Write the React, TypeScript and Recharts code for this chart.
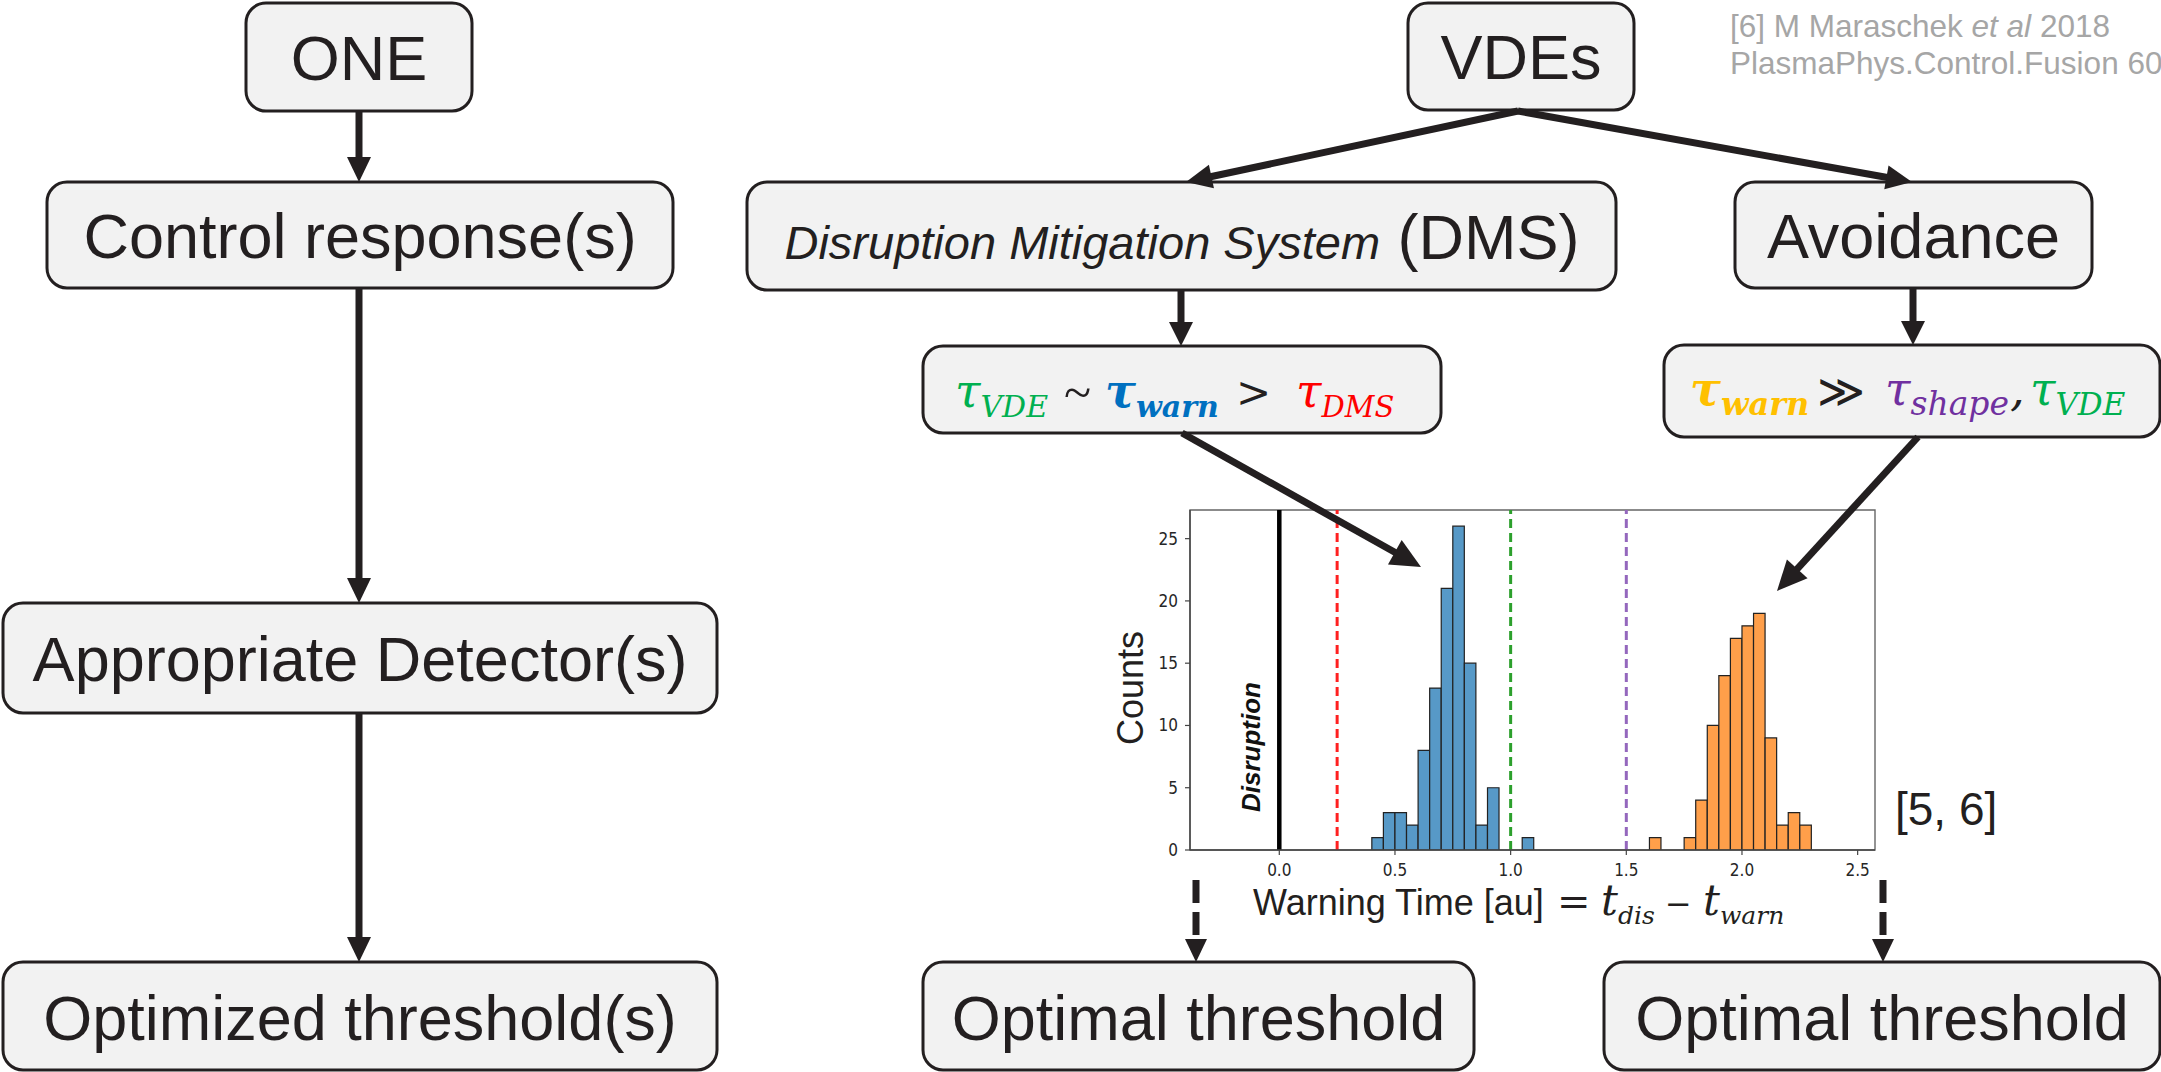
import React from 'react';
import { ComposedChart, Bar, Cell, XAxis, YAxis, ReferenceLine, ReferenceArea } from 'recharts';

const FIG_W = 2161;
const FIG_H = 1072;

// histogram of warning times: left bin edges and counts for each response
const BIN_WIDTH = 0.05;
const dmsBinStarts = [0.4, 0.45, 0.5, 0.55, 0.6, 0.65, 0.7, 0.75, 0.8, 0.85, 0.9, 1.05];
const dmsCounts = [1, 3, 3, 2, 8, 13, 21, 26, 15, 2, 5, 1];
const avoidBinStarts = [1.6, 1.75, 1.8, 1.85, 1.9, 1.95, 2.0, 2.05, 2.1, 2.15, 2.2, 2.25];
const avoidCounts = [1, 1, 4, 10, 14, 17, 18, 19, 9, 2, 3, 2];

const xTicks = [0, 0.5, 1.0, 1.5, 2.0, 2.5];
const yTicks = [0, 5, 10, 15, 20, 25];
const xDomain = [-0.386, 2.575];
const yDomain = [0, 27.3];

// vertical markers
const disruptionTime = 0;
const tauDmsTime = 0.25;
const tauVdeTime = 1.0;
const tauShapeTime = 1.5;

const INK = '#231f20';
const BOX_FILL = '#f2f2f2';
const SANS = '"Liberation Sans", Arial, Helvetica, sans-serif';
const MATH = '"DejaVu Serif", "Liberation Serif", serif';
const TIMES = '"Liberation Serif", serif';
const TICK_FONT = '"DejaVu Sans Condensed", "DejaVu Sans", sans-serif';

const GREEN = '#00b050';
const BLUE = '#0070c0';
const RED = '#ff0000';
const GOLD = '#ffc000';
const PURPLE = '#7030a0';

const DMS_FILL = '#5799c7';
const AVOID_FILL = '#ff9f4a';

// plot area of the histogram inside the figure
const PLOT = { left: 1190, top: 510, right: 1875, bottom: 850 };
const Y_AXIS_W = 60;
const X_AXIS_H = 40;
const binPx =
  (BIN_WIDTH * (PLOT.right - PLOT.left)) / (xDomain[1] - xDomain[0]) - 0.05;

const histData = [
  ...dmsBinStarts.map((start, i) => ({ x: start + BIN_WIDTH / 2, count: dmsCounts[i], group: 'dms' })),
  ...avoidBinStarts.map((start, i) => ({ x: start + BIN_WIDTH / 2, count: avoidCounts[i], group: 'avoid' })),
];

const boxes = [
  { x: 246, y: 3, w: 226, h: 108, text: 'ONE', base: 80 },
  { x: 47, y: 182, w: 626, h: 106, text: 'Control response(s)', base: 258 },
  { x: 3, y: 603, w: 714, h: 110, text: 'Appropriate Detector(s)', base: 681 },
  { x: 3, y: 962, w: 714, h: 108, text: 'Optimized threshold(s)', base: 1040 },
  { x: 1408, y: 3, w: 226, h: 107, text: 'VDEs', base: 79 },
  { x: 1735, y: 182, w: 357, h: 106, text: 'Avoidance', base: 258 },
  { x: 923, y: 962, w: 551, h: 108, text: 'Optimal threshold', base: 1040 },
  { x: 1604, y: 962, w: 556, h: 108, text: 'Optimal threshold', base: 1040 },
];

function Box({ x, y, w, h }: { x: number; y: number; w: number; h: number }) {
  return <rect x={x} y={y} width={w} height={h} rx={20} ry={20} fill={BOX_FILL} stroke={INK} strokeWidth={3} />;
}

function Arrow({
  x1, y1, x2, y2, head = 25, w = 24, dash,
}: { x1: number; y1: number; x2: number; y2: number; head?: number; w?: number; dash?: string }) {
  const a = Math.atan2(y2 - y1, x2 - x1);
  const c = Math.cos(a);
  const s = Math.sin(a);
  const bx = x2 - head * c;
  const by = y2 - head * s;
  const px = (-s * w) / 2;
  const py = (c * w) / 2;
  return (
    <g>
      <line x1={x1} y1={y1} x2={bx + c} y2={by + s} stroke={INK} strokeWidth={7} strokeDasharray={dash} />
      <polygon points={`${x2},${y2} ${bx + px},${by + py} ${bx - px},${by - py}`} fill={INK} />
    </g>
  );
}

function Tau({
  x, y, color, sub, bold, size = 46, subSize = 30,
}: { x: number; y: number; color: string; sub: string; bold?: boolean; size?: number; subSize?: number }) {
  return (
    <text x={x} y={y} fill={color} fontFamily={MATH} fontStyle="italic" fontWeight={bold ? 700 : 400} fontSize={size}>
      τ
      <tspan dy={10} fontSize={subSize}>{sub}</tspan>
    </text>
  );
}

const DisruptionLabel = (props: any) => {
  const vb = props && props.viewBox;
  if (!vb) return null;
  const bx = vb.x - 19;
  const by = vb.y + vb.height - 38;
  return (
    <text
      x={bx}
      y={by}
      transform={`rotate(-90 ${bx} ${by})`}
      fontFamily={SANS}
      fontStyle="italic"
      fontWeight={700}
      fontSize={26}
      fill="#111"
    >
      Disruption
    </text>
  );
};

function Histogram() {
  return (
    <ComposedChart
      width={FIG_W}
      height={FIG_H}
      data={histData}
      margin={{
        top: PLOT.top,
        left: PLOT.left - Y_AXIS_W,
        right: FIG_W - PLOT.right,
        bottom: FIG_H - PLOT.bottom - X_AXIS_H,
      }}
    >
      <XAxis
        dataKey="x"
        type="number"
        domain={xDomain}
        ticks={xTicks}
        interval={0}
        allowDataOverflow
        height={X_AXIS_H}
        tickSize={5}
        tickMargin={9}
        tickFormatter={(v: number) => v.toFixed(1)}
        tick={{ fill: '#262626', fontSize: 17, fontFamily: TICK_FONT }}
        axisLine={{ stroke: '#444', strokeWidth: 1.4 }}
        tickLine={{ stroke: '#444', strokeWidth: 1.2 }}
      />
      <YAxis
        type="number"
        domain={yDomain}
        ticks={yTicks}
        interval={0}
        allowDataOverflow
        width={Y_AXIS_W}
        tickSize={5}
        tickMargin={7}
        tick={{ fill: '#262626', fontSize: 17, fontFamily: TICK_FONT }}
        axisLine={{ stroke: '#444', strokeWidth: 1.4 }}
        tickLine={{ stroke: '#444', strokeWidth: 1.2 }}
      />
      <ReferenceArea
        x1={xDomain[0]}
        x2={xDomain[1]}
        y1={yDomain[0]}
        y2={yDomain[1]}
        fill="none"
        stroke="#666"
        strokeWidth={1.4}
      />
      <Bar dataKey="count" barSize={binPx} stroke="#222" strokeWidth={1.2} isAnimationActive={false}>
        {histData.map((d, i) => (
          <Cell key={`bin-${i}`} fill={d.group === 'dms' ? DMS_FILL : AVOID_FILL} />
        ))}
      </Bar>
      <ReferenceLine x={disruptionTime} stroke="#000" strokeWidth={4.5} label={DisruptionLabel} />
      <ReferenceLine x={tauDmsTime} stroke="#ff2020" strokeWidth={3} strokeDasharray="9 5" />
      <ReferenceLine x={tauVdeTime} stroke="#2ca02c" strokeWidth={3} strokeDasharray="9 5" />
      <ReferenceLine x={tauShapeTime} stroke="#9467bd" strokeWidth={3} strokeDasharray="9 5" />
    </ComposedChart>
  );
}

export default function App() {
  return (
    <div
      style={{
        position: 'absolute',
        left: 0,
        top: 0,
        width: FIG_W,
        height: FIG_H,
        background: '#fff',
        overflow: 'hidden',
      }}
    >
      <div style={{ position: 'absolute', left: 0, top: 0 }}>
        <Histogram />
      </div>
      <svg
        width={FIG_W}
        height={FIG_H}
        style={{ position: 'absolute', left: 0, top: 0, pointerEvents: 'none' }}
      >
        {/* reference note */}
        <g fontFamily={SANS} fontSize={31.5} fill="#a6a6a6">
          <text x={1730} y={37}>
            {'[6] M Maraschek '}
            <tspan fontStyle="italic">et al</tspan>
            {' 2018'}
          </text>
          <text x={1730} y={74}>PlasmaPhys.Control.Fusion 60</text>
        </g>

        {/* flow boxes */}
        {boxes.map((b, i) => (
          <g key={`box-${i}`}>
            <Box x={b.x} y={b.y} w={b.w} h={b.h} />
            <text x={b.x + b.w / 2} y={b.base} textAnchor="middle" fontFamily={SANS} fontSize={63} fill={INK}>
              {b.text}
            </text>
          </g>
        ))}
        <Box x={747} y={182} w={869} h={108} />
        <text x={1182} y={259} textAnchor="middle" fontFamily={SANS} fill={INK}>
          <tspan fontStyle="italic" fontSize={47}>Disruption Mitigation System</tspan>
          <tspan fontSize={63}>{' (DMS)'}</tspan>
        </text>

        {/* timescale relations */}
        <Box x={923} y={346} w={518} h={87} />
        <Tau x={955} y={407} color={GREEN} sub="VDE" />
        <text x={1064} y={409} fontFamily={TIMES} fontSize={50} fill={INK}>~</text>
        <Tau x={1105} y={407} color={BLUE} sub="warn" bold />
        <text x={1236} y={407} fontFamily={MATH} fontSize={42} fill={INK}>&gt;</text>
        <Tau x={1296} y={407} color={RED} sub="DMS" subSize={29} />

        <Box x={1664} y={345} w={496} h={92} />
        <Tau x={1690} y={405} color={GOLD} sub="warn" bold subSize={32} />
        <text x={1817} y={407} fontFamily={MATH} fontSize={46} fill={INK}>≫</text>
        <Tau x={1885} y={405} color={PURPLE} sub="shape" subSize={33} />
        <text x={2010} y={405} fontFamily={MATH} fontStyle="italic" fontSize={46} fill={INK}>,</text>
        <Tau x={2030} y={405} color={GREEN} sub="VDE" subSize={31} />

        {/* arrows */}
        <Arrow x1={359} y1={111} x2={359} y2={182} />
        <Arrow x1={359} y1={288} x2={359} y2={603} />
        <Arrow x1={359} y1={713} x2={359} y2={962} />
        <Arrow x1={1518} y1={111} x2={1186} y2={182} head={26} />
        <Arrow x1={1518} y1={111} x2={1912} y2={182} head={26} />
        <Arrow x1={1181} y1={290} x2={1181} y2={346} head={24} />
        <Arrow x1={1913} y1={288} x2={1913} y2={345} head={24} />
        <Arrow x1={1182} y1={433} x2={1421} y2={567} head={30} w={28} />
        <Arrow x1={1918} y1={437} x2={1777} y2={591} head={30} w={28} />
        <Arrow x1={1196} y1={880} x2={1196} y2={962} head={23} w={22} dash="23 9" />
        <Arrow x1={1883} y1={880} x2={1883} y2={962} head={23} w={22} dash="23 9" />

        {/* histogram axis titles */}
        <text
          x={1143}
          y={688}
          transform="rotate(-90 1143 688)"
          textAnchor="middle"
          fontFamily={SANS}
          fontSize={36}
          fill={INK}
        >
          Counts
        </text>
        <text x={1253} y={915} fontFamily={SANS} fontSize={36} fill={INK}>Warning Time [au]</text>
        <text x={1557} y={915} fontFamily={MATH} fontSize={40} fill={INK}>=</text>
        <text x={1601} y={915} fontFamily={MATH} fontStyle="italic" fontSize={42} fill={INK}>
          t<tspan dy={9} fontSize={25}>dis</tspan>
        </text>
        <text x={1665} y={915} fontFamily={MATH} fontSize={32} fill={INK}>−</text>
        <text x={1703} y={915} fontFamily={MATH} fontStyle="italic" fontSize={42} fill={INK}>
          t<tspan dy={9} fontSize={25}>warn</tspan>
        </text>

        <text x={1895} y={825} fontFamily={SANS} fontSize={46} fill={INK}>[5, 6]</text>
      </svg>
    </div>
  );
}
